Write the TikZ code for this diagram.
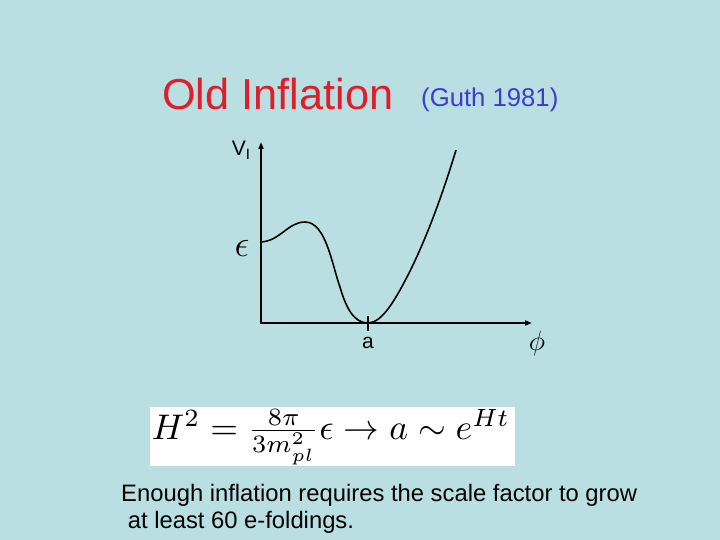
\documentclass[tikz,border=0pt]{standalone}
\usepackage{fontspec}
\usepackage{graphicx}
\setmainfont{Liberation Sans}
\usepackage{amsmath}
\usetikzlibrary{arrows.meta}
\definecolor{bg}{RGB}{185,223,227}
\definecolor{titlered}{RGB}{222,30,40}
\definecolor{guthblue}{RGB}{60,60,205}
\tikzset{
  axis/.style={line width=1.8pt,-{Triangle[length=7pt,width=5pt]}},
  curve/.style={line width=1.6pt},
  lbl/.style={inner sep=0pt,font=\fontsize{21}{24}\selectfont},
  body/.style={inner sep=0pt,anchor=base west,font=\fontsize{23.8}{27}\selectfont}
}
\begin{document}
\begin{tikzpicture}[x=1pt,y=-1pt]
\fill[bg] (0,0) rectangle (720,540);
\useasboundingbox (0,0) rectangle (720,540);
% title
\node[inner sep=0pt,anchor=base west,text=titlered,font=\fontsize{43.3}{48}\selectfont] (title) at (162,110) {Old Inflation};
\node[inner sep=0pt,anchor=base west,text=guthblue,font=\fontsize{25.7}{30}\selectfont] (guth) at (421,107) {(Guth 1981)};
% axes
\coordinate (o) at (261,323);
\coordinate (ytip) at (261,142);
\coordinate (xtip) at (532,323);
\draw[axis] (o) -- (ytip);
\draw[axis] ([xshift=-0.9pt]o) -- (xtip);
\coordinate (tickt) at (368,316);
\coordinate (tickb) at (368,331);
\draw[line width=1.3pt] (tickt) -- (tickb);
% curve
\coordinate (c0) at (261,242);
\coordinate (cmax) at (305,222);
\coordinate (cinf) at (340,287);
\coordinate (cmin) at (368,323);
\coordinate (cr) at (407,277);
\coordinate (cend) at (456,150);
\draw[curve] (c0) .. controls (280,241) and (288,222) .. (cmax)
  .. controls (326,222) and (332,265) .. (cinf)
  .. controls (346,308) and (354,323) .. (cmin)
  .. controls (382,323) and (395,300) .. (cr)
  .. controls (423,246) and (440,203) .. (cend);
% labels
\node[lbl] (vi) at (241,150) {V\raisebox{-4pt}{\fontsize{15}{16}\selectfont I}};
\node[lbl] (eps) at (242,248) {\scalebox{1.8}{$\epsilon$}};
\node[lbl] (alab) at (368,343) {a};
\node[lbl] (phi) at (537,343) {\scalebox{1.35}{$\phi$}};
% formula
\node[fill=white,minimum width=365pt,minimum height=59pt,inner sep=0pt] (fbox) at (332.5,436.5) {};
\node[inner sep=0pt] (formula) at (331,437) {\resizebox{358pt}{!}{$H^2 = \tfrac{8\pi}{3m_{pl}^2}\epsilon \to a \sim e^{Ht}$}};
% bottom text
\node[body] (line1) at (121,501) {Enough inflation requires the scale factor to grow};
\node[body] (line2) at (121,528) {\ at least 60 e-foldings.};
\end{tikzpicture}
\end{document}
